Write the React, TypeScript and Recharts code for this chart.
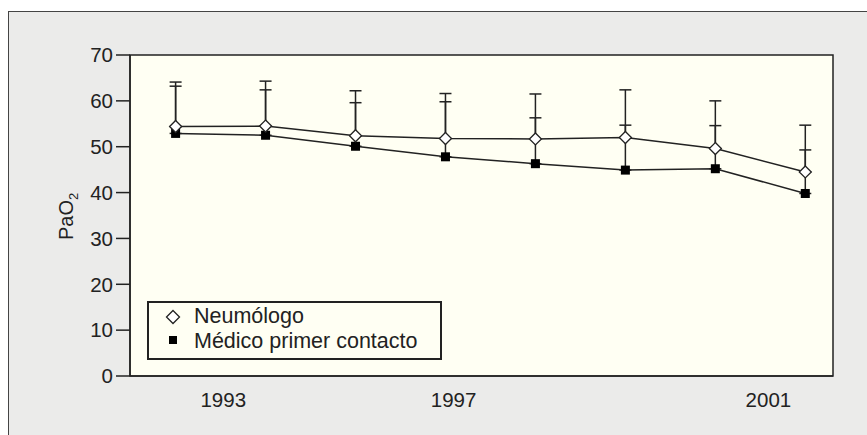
import {
  LineChart,
  Line,
  XAxis,
  YAxis,
  ErrorBar,
  ReferenceArea,
  Label,
} from "recharts"

const points = [0, 1, 2, 3, 4, 5, 6, 7]
const neumologo = [54.4, 54.5, 52.4, 51.8, 51.7, 52.0, 49.6, 44.5]
const neumologoSd = [9.7, 9.8, 9.8, 9.8, 9.8, 10.4, 10.4, 10.2]
const medico = [52.9, 52.5, 50.1, 47.8, 46.3, 44.9, 45.2, 39.8]
const medicoSd = [10.3, 9.9, 9.5, 12.0, 10.0, 9.8, 9.4, 9.5]
const yearTicks = [0.53, 3.09, 6.59]
const yearLabels = ["1993", "1997", "2001"]
const yTicks = [0, 10, 20, 30, 40, 50, 60, 70]
const seriesNames = ["Neumólogo", "Médico primer contacto"]

const data = points.map((x, i) => ({
  x,
  neumologo: neumologo[i],
  neumologoErr: [0, neumologoSd[i]],
  medico: medico[i],
  medicoErr: [0, medicoSd[i]],
}))

const ink = "#222"
const font = "'Liberation Sans', Arial, Helvetica, sans-serif"
const plotFill = "#fffff3"

function Diamond({ cx, cy }: any) {
  if (cx == null || cy == null) return null
  const r = 6
  return (
    <polygon
      points={`${cx},${cy - r} ${cx + r},${cy} ${cx},${cy + r} ${cx - r},${cy}`}
      fill="#fff"
      stroke={ink}
      strokeWidth={1.3}
    />
  )
}

function Square({ cx, cy }: any) {
  if (cx == null || cy == null) return null
  return <rect x={cx - 4.5} y={cy - 4.5} width={9} height={9} fill="#000" />
}

function LegendBox() {
  return (
    <div
      style={{
        position: "absolute",
        left: 147,
        top: 301,
        width: 291,
        height: 55,
        border: `2px solid ${ink}`,
        background: plotFill,
        fontFamily: font,
        fontSize: 21.5,
        color: ink,
      }}
    >
      <svg
        width={20}
        height={55}
        style={{ position: "absolute", left: 14, top: 0 }}
      >
        <polygon points="10,7.5 16.5,14 10,20.5 3.5,14" fill="#fff" stroke={ink} strokeWidth={1.3} />
        <rect x={6} y={33} width={8} height={8} fill="#000" />
      </svg>
      <div style={{ position: "absolute", left: 45, top: 1, lineHeight: "24px", whiteSpace: "nowrap" }}>
        {seriesNames[0]}
      </div>
      <div style={{ position: "absolute", left: 45, top: 26, lineHeight: "24px", whiteSpace: "nowrap" }}>
        {seriesNames[1]}
      </div>
    </div>
  )
}

function YLabel() {
  return (
    <text
      x={73}
      y={240}
      transform="rotate(-90, 73, 240)"
      fill={ink}
      fontSize={20}
      fontFamily={font}
    >
      PaO
      <tspan fontSize={13} dy={5}>
        2
      </tspan>
    </text>
  )
}

export default function App() {
  return (
    <div
      style={{
        position: "absolute",
        left: 0,
        top: 0,
        width: 867,
        height: 435,
        overflow: "hidden",
        background: "#fff",
      }}
    >
      <div
        style={{
          position: "absolute",
          left: 8,
          top: 11,
          width: 880,
          height: 450,
          background: "#ebebea",
          borderLeft: "1.5px solid #444",
          borderTop: "1.5px solid #444",
        }}
      />
      <div style={{ position: "absolute", left: 0, top: 0 }}>
        <LineChart
          width={867}
          height={435}
          data={data}
          margin={{ top: 55, right: 34, bottom: 29, left: 30 }}
        >
          <XAxis
            dataKey="x"
            type="number"
            domain={[-0.507, 7.308]}
            allowDataOverflow
            ticks={yearTicks}
            tickFormatter={(v: number) => yearLabels[yearTicks.indexOf(v)] ?? ""}
            tickLine={false}
            tickSize={6}
            tickMargin={10}
            height={30}
            axisLine={{ stroke: ink, strokeWidth: 1.5 }}
            tick={{ fill: ink, fontSize: 20.5, fontFamily: font }}
          />
          <YAxis
            type="number"
            domain={[0, 70]}
            ticks={yTicks}
            width={100}
            tickSize={14}
            tickMargin={3}
            axisLine={{ stroke: ink, strokeWidth: 1.5 }}
            tickLine={{ stroke: ink, strokeWidth: 1.5 }}
            tick={{ fill: ink, fontSize: 20.5, fontFamily: font }}
          >
            <Label content={() => <YLabel />} />
          </YAxis>
          <ReferenceArea
            y1={0}
            y2={70}
            fill={plotFill}
            fillOpacity={1}
            stroke={ink}
            strokeWidth={1.5}
          />
          <Line
            dataKey="medico"
            stroke={ink}
            strokeWidth={1.5}
            dot={<Square />}
            activeDot={false}
            isAnimationActive={false}
          >
            <ErrorBar dataKey="medicoErr" width={6} stroke={ink} strokeWidth={1.5} />
          </Line>
          <Line
            dataKey="neumologo"
            stroke={ink}
            strokeWidth={1.5}
            dot={<Diamond />}
            activeDot={false}
            isAnimationActive={false}
          >
            <ErrorBar dataKey="neumologoErr" width={6} stroke={ink} strokeWidth={1.5} />
          </Line>
        </LineChart>
      </div>
      <LegendBox />
    </div>
  )
}
